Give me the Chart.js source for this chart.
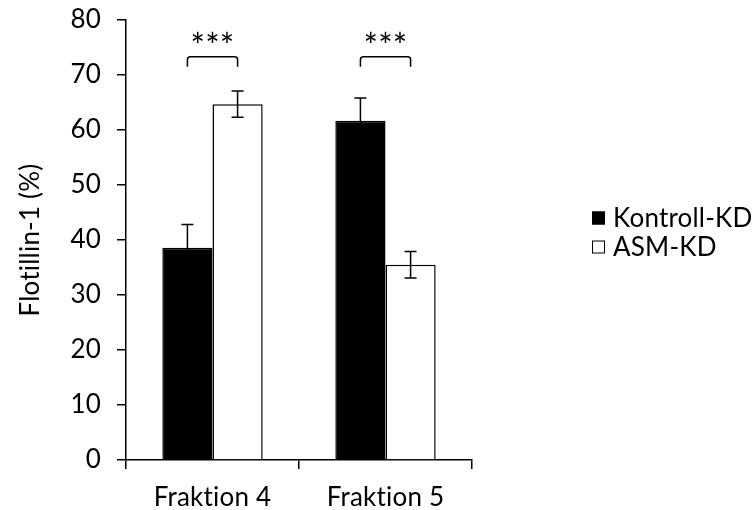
<!DOCTYPE html>
<html>
<head>
<meta charset="utf-8">
<script src="https://cdn.jsdelivr.net/npm/chart.js@4/dist/chart.umd.min.js"></script>
<style>
  html, body { margin: 0; padding: 0; background: #fff; }
  #wrap { width: 754px; height: 510px; }
</style>
</head>
<body>
<div id="wrap"><canvas id="chart" width="754" height="510"></canvas></div>
<script>
// Flotillin-1 distribution across fractions 4 and 5
const categories = ['Fraktion 4', 'Fraktion 5'];
const kontrollValues = [38.6, 61.7];
const kontrollErrors = [4.2, 4.1];
const asmValues = [64.7, 35.5];
const asmErrors = [2.4, 2.4];
const significance = ['***', '***'];
const seriesNames = ['Kontroll-KD', 'ASM-KD'];
const yTickValues = [0, 10, 20, 30, 40, 50, 60, 70, 80];

const FONT = 'Lato, "Open Sans", sans-serif';
const FONT_SIZE = 26;

// Keep glyphs separate (no "ti" ligature) in all canvas text
const noLigaturePlugin = {
  id: 'noLigature',
  beforeDraw(chart) {
    if ('letterSpacing' in chart.ctx) chart.ctx.letterSpacing = '0.2px';
  }
};

// Error bars (mean ± SD) on top of each bar
const errorBarPlugin = {
  id: 'errorBars',
  afterDatasetsDraw(chart) {
    const ctx = chart.ctx;
    const y = chart.scales.y;
    const errs = [kontrollErrors, asmErrors];
    ctx.save();
    ctx.strokeStyle = '#000';
    ctx.lineWidth = 1.5;
    chart.data.datasets.forEach((ds, di) => {
      const meta = chart.getDatasetMeta(di);
      meta.data.forEach((bar, i) => {
        const v = ds.data[i], e = errs[di][i];
        const yHi = y.getPixelForValue(v + e);
        const yLo = y.getPixelForValue(v - e);
        const cap = 6;
        ctx.beginPath();
        ctx.moveTo(bar.x, yHi); ctx.lineTo(bar.x, yLo);
        ctx.moveTo(bar.x - cap, yHi); ctx.lineTo(bar.x + cap, yHi);
        ctx.moveTo(bar.x - cap, yLo); ctx.lineTo(bar.x + cap, yLo);
        ctx.stroke();
      });
    });
    ctx.restore();
  }
};

// Significance brackets between the two bars of each fraction
const significancePlugin = {
  id: 'significance',
  afterDatasetsDraw(chart, args, opts) {
    const ctx = chart.ctx;
    const y = chart.scales.y;
    const m0 = chart.getDatasetMeta(0), m1 = chart.getDatasetMeta(1);
    const yTop = y.getPixelForValue(opts.bracketTop);
    const yLeg = y.getPixelForValue(opts.bracketLeg);
    const yStar = y.getPixelForValue(opts.starLevel);
    ctx.save();
    ctx.strokeStyle = '#000';
    ctx.lineWidth = 1.5;
    ctx.fillStyle = '#000';
    ctx.font = '34px ' + FONT;
    ctx.textAlign = 'center';
    ctx.textBaseline = 'middle';
    significance.forEach((label, i) => {
      const x1 = m0.data[i].x, x2 = m1.data[i].x;
      const r = 3;
      ctx.beginPath();
      ctx.moveTo(x1, yLeg);
      ctx.lineTo(x1, yTop + r);
      ctx.quadraticCurveTo(x1, yTop, x1 + r, yTop);
      ctx.lineTo(x2 - r, yTop);
      ctx.quadraticCurveTo(x2, yTop, x2, yTop + r);
      ctx.lineTo(x2, yLeg);
      ctx.stroke();
      ctx.fillText(label, (x1 + x2) / 2, yStar);
    });
    ctx.restore();
  }
};

// Legend to the right of the plot
const sideLegendPlugin = {
  id: 'sideLegend',
  afterDraw(chart, args, opts) {
    const ctx = chart.ctx;
    const area = chart.chartArea;
    const x0 = area.right + opts.offsetX;
    ctx.save();
    ctx.font = FONT_SIZE + 'px ' + FONT;
    ctx.textAlign = 'left';
    ctx.textBaseline = 'middle';
    chart.data.datasets.forEach((ds, i) => {
      const cy = opts.top + i * opts.rowGap;
      const s = 13;
      ctx.fillStyle = ds.backgroundColor;
      ctx.fillRect(x0, cy - s / 2, s, s);
      ctx.strokeStyle = '#000';
      ctx.lineWidth = 1;
      ctx.strokeRect(x0 + 0.5, cy - s / 2 + 0.5, s - 1, s - 1);
      ctx.fillStyle = '#000';
      ctx.fillText(ds.label, x0 + s + 8, cy + 1);
    });
    ctx.restore();
  }
};

new Chart(document.getElementById('chart'), {
  type: 'bar',
  data: {
    labels: categories,
    datasets: [
      {
        label: seriesNames[0],
        data: kontrollValues,
        backgroundColor: '#000',
        borderColor: '#000',
        borderWidth: 1.5,
        categoryPercentage: 0.58,
        barPercentage: 1.0
      },
      {
        label: seriesNames[1],
        data: asmValues,
        backgroundColor: '#fff',
        borderColor: '#000',
        borderWidth: 1.5,
        categoryPercentage: 0.58,
        barPercentage: 1.0
      }
    ]
  },
  options: {
    responsive: false,
    animation: false,
    events: [],
    layout: { padding: { left: 0, top: 20, right: 282, bottom: 0 } },
    plugins: {
      legend: { display: false },
      tooltip: { enabled: false },
      significance: { bracketTop: 73.3, bracketLeg: 71.5, starLevel: 75.1 },
      sideLegend: { offsetX: 120, top: 218, rowGap: 29 }
    },
    scales: {
      x: {
        grid: {
          offset: true,
          drawOnChartArea: false,
          drawTicks: true,
          tickLength: 9,
          color: '#000',
          lineWidth: 1.5
        },
        border: { display: true, color: '#000', width: 1.5 },
        ticks: {
          color: '#000',
          font: { family: FONT, size: FONT_SIZE },
          padding: 13
        },
        afterFit(scale) {
          scale.height = 50;
          scale.paddingLeft = 0;
          scale.paddingRight = 0;
        }
      },
      y: {
        min: 0,
        max: 80,
        afterBuildTicks(scale) {
          scale.ticks = yTickValues.map(v => ({ value: v }));
        },
        grid: {
          drawOnChartArea: false,
          drawTicks: true,
          tickLength: 9,
          color: '#000',
          lineWidth: 1.5
        },
        border: { display: true, color: '#000', width: 1.5 },
        ticks: {
          color: '#000',
          font: { family: FONT, size: FONT_SIZE },
          padding: 16
        },
        title: {
          display: true,
          text: 'Flotillin-1 (%)',
          color: '#000',
          font: { family: FONT, size: FONT_SIZE },
          padding: { top: 15, bottom: 0 }
        },
        afterFit(scale) {
          scale.width = 126;
          scale.paddingTop = 0;
          scale.paddingBottom = 0;
        }
      }
    }
  },
  plugins: [noLigaturePlugin, errorBarPlugin, significancePlugin, sideLegendPlugin]
});
</script>
</body>
</html>
